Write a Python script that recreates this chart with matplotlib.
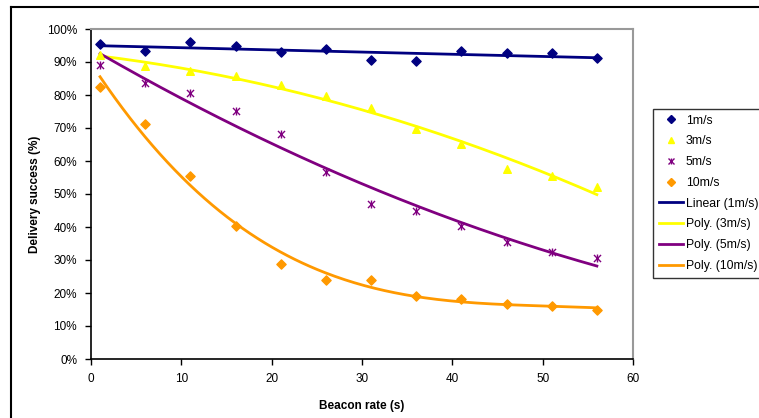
import numpy as np
import matplotlib
matplotlib.use("Agg")
from matplotlib import pyplot as plt
from matplotlib.lines import Line2D
from matplotlib.ticker import PercentFormatter

plt.rcParams['font.family'] = ['Liberation Sans', 'DejaVu Sans']

beacon_rate = [1, 6, 11, 16, 21, 26, 31, 36, 41, 46, 51, 56]
success_1ms = [95.4, 93.3, 96.2, 94.7, 93.1, 93.9, 90.5, 90.2, 93.4, 92.7, 92.7, 91.2]
success_3ms = [92.0, 88.7, 87.2, 85.7, 83.0, 79.8, 76.0, 69.7, 65.2, 57.6, 55.4, 52.1]
success_5ms = [89.0, 83.7, 80.7, 75.1, 68.2, 56.6, 47.0, 45.0, 40.2, 35.6, 32.3, 30.7]
success_10ms = [82.4, 71.2, 55.5, 40.2, 28.9, 23.8, 23.8, 19.0, 18.3, 16.8, 16.2, 14.8]

navy = "#000080"
yellow = "#FFFF00"
purple = "#800080"
orange = "#FF9900"

W, H = 759, 418
fig = plt.figure(figsize=(W / 100, H / 100), dpi=100)
ax = fig.add_axes([91 / W, (H - 359) / H, 542 / W, 330 / H])

x = np.array(beacon_rate)
xs = np.linspace(x.min(), x.max(), 200)

# trendlines (Excel style: linear for 1m/s, polynomial for the rest)
fits = [
    (success_1ms, 1, navy),
    (success_3ms, 2, yellow),
    (success_5ms, 2, purple),
    (success_10ms, 3, orange),
]
for ys, deg, col in fits:
    coef = np.polyfit(x, ys, deg)
    ax.plot(xs, np.polyval(coef, xs), color=col, lw=2, zorder=2)

ax.scatter(x, success_1ms, marker="D", s=22, color=navy, zorder=3)
ax.scatter(x, success_3ms, marker="^", s=30, color=yellow, zorder=3)
ax.scatter(x, success_5ms, marker="x", s=26, color=purple, lw=1, zorder=3)
ax.scatter(x, success_5ms, marker="|", s=26, color=purple, lw=1, zorder=3)
ax.scatter(x, success_10ms, marker="D", s=22, color=orange, zorder=3)

ax.set_xlim(0, 60)
ax.set_ylim(0, 100)
ax.set_xticks(range(0, 61, 10))
ax.set_yticks(range(0, 101, 10))
ax.yaxis.set_major_formatter(PercentFormatter(decimals=0))
ax.tick_params(labelsize=8.5, length=4, width=1, color="black", direction="out")
ax.tick_params(axis="y", pad=6)
ax.tick_params(axis="x", pad=6)

ax.spines['top'].set_color("#999999")
ax.spines['right'].set_color("#999999")
ax.spines['top'].set_linewidth(1.5)
ax.spines['right'].set_linewidth(1.5)
ax.spines['left'].set_linewidth(1.2)
ax.spines['bottom'].set_linewidth(1.2)

ax.set_xlabel("Beacon rate (s)", fontsize=8.5, fontweight="bold", labelpad=11)
ax.set_ylabel("Delivery success (%)", fontsize=8.5, fontweight="bold", labelpad=4)

handles = [
    Line2D([], [], ls="", marker="D", ms=4, color=navy),
    Line2D([], [], ls="", marker="^", ms=5, color=yellow),
    (Line2D([], [], ls="", marker="x", ms=4.5, color=purple, mew=1),
     Line2D([], [], ls="", marker="|", ms=4.5, color=purple, mew=1)),
    Line2D([], [], ls="", marker="D", ms=4, color=orange),
    Line2D([], [], color=navy, lw=2),
    Line2D([], [], color=yellow, lw=2),
    Line2D([], [], color=purple, lw=2),
    Line2D([], [], color=orange, lw=2),
]
labels = ["1m/s", "3m/s", "5m/s", "10m/s", "Linear (1m/s)",
          "Poly. (3m/s)", "Poly. (5m/s)", "Poly. (10m/s)"]
leg = fig.legend(handles, labels, loc="upper left",
                 bbox_to_anchor=(653 / W, 1 - 109 / H),
                 fontsize=8.8, frameon=True, fancybox=False,
                 handlelength=2.0, handletextpad=0.25, labelspacing=0.72,
                 borderpad=0.45, borderaxespad=0)
leg.get_frame().set_edgecolor("black")
leg.get_frame().set_linewidth(1)

# outer chart border
fig.add_artist(Line2D([11 / W, 11 / W], [0, 1 - 7 / H], color="black", lw=1.5,
                      transform=fig.transFigure))
fig.add_artist(Line2D([11 / W, 1], [1 - 7 / H, 1 - 7 / H], color="black", lw=1.5,
                      transform=fig.transFigure))

fig.savefig("out.png", dpi=100)
